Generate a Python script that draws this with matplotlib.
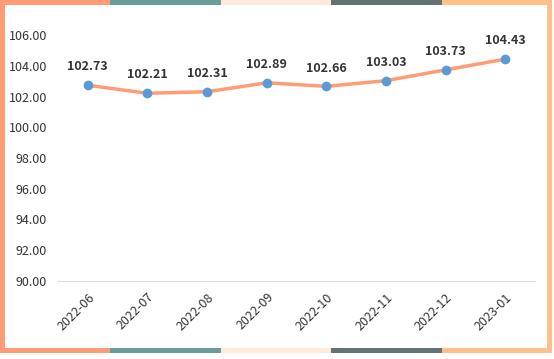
import matplotlib.pyplot as plt
from matplotlib.patches import Rectangle

months = ["2022-06", "2022-07", "2022-08", "2022-09", "2022-10", "2022-11", "2022-12", "2023-01"]
values = [102.73, 102.21, 102.31, 102.89, 102.66, 103.03, 103.73, 104.43]
y_ticks = [90, 92, 94, 96, 98, 100, 102, 104, 106]
border_colors = ["#FF9B75", "#6A9C9A", "#FFE8DC", "#627371", "#FFC08C"]

plt.rcParams['font.family'] = ['Noto Sans CJK SC', 'DejaVu Sans']

W, H = 554, 359
fig = plt.figure(figsize=(W / 100, H / 100), dpi=100)
ax = fig.add_axes([58 / W, 1 - 281 / H, (535 - 58) / W, (281 - 35) / H])

x = list(range(len(months)))
ax.plot(x, values, color="#FF9B75", lw=2.5, zorder=2)
ax.scatter(x, values, s=36, color="#5B9BD5", zorder=3)
for xi, v in zip(x, values):
    ax.annotate(f"{v:.2f}", (xi, v), xytext=(0, 8.5), textcoords="offset points",
                ha="center", va="bottom", fontsize=9, fontweight="bold", color="#333333")

ax.set_xlim(-0.5, len(months) - 0.5)
ax.set_ylim(90, 106)
ax.set_yticks(y_ticks)
ax.set_yticklabels([f"{t:.2f}" for t in y_ticks])
ax.set_xticks(x)
ax.set_xticklabels(months, rotation=45, ha="right", rotation_mode="anchor")
ax.tick_params(axis="y", length=0, pad=8, labelsize=9, labelcolor="#333333")
ax.tick_params(axis="x", length=0, pad=7, labelsize=9, labelcolor="#333333")
for s in ["top", "right", "left"]:
    ax.spines[s].set_visible(False)
ax.spines["bottom"].set_color("#DDDDDD")

# decorative frame
fw, fh, t = 552, 353, 5
seg = fw / len(border_colors)
for i, c in enumerate(border_colors):
    for y0 in (H - t, H - fh):
        fig.patches.append(Rectangle((i * seg / W, y0 / H), seg / W, t / H,
                                     transform=fig.transFigure, color=c, lw=0))
fig.patches.append(Rectangle((0, (H - fh) / H), t / W, fh / H, transform=fig.transFigure,
                             color=border_colors[0], lw=0))
fig.patches.append(Rectangle(((fw - t) / W, (H - fh) / H), t / W, fh / H,
                             transform=fig.transFigure, color=border_colors[-1], lw=0))

fig.savefig("out.png", dpi=100)
